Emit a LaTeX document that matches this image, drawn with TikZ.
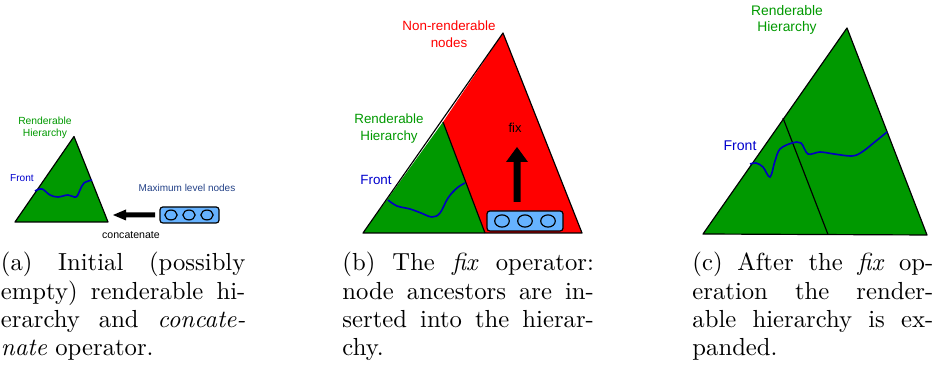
\documentclass[tikz,border=0pt]{standalone}
\usepackage{fontspec}
\usetikzlibrary{shapes.geometric}
\newfontfamily\labfont{Liberation Sans}
\definecolor{treegreen}{RGB}{0,153,0}
\definecolor{treered}{RGB}{255,0,0}
\definecolor{frontblue}{RGB}{0,0,190}
\definecolor{labelblue}{RGB}{0,0,205}
\definecolor{maxblue}{RGB}{35,65,135}
\definecolor{boxblue}{RGB}{102,178,255}
\tikzset{
  tri/.style={draw=black, line width=0.5pt, line join=round},
  frontline/.style={draw=frontblue, line width=0.7pt},
  lab/.style={inner sep=0pt, align=center},
  levelbox/.style={draw=black, fill=boxblue, rounded corners=1.2pt, line width=0.5pt},
  levelnode/.style={draw=black, fill=boxblue, line width=0.5pt, ellipse, inner sep=0pt},
  bigarrow/.style={fill=black},
  captionnode/.style={anchor=base west, inner sep=0pt},
}
% one justified caption line of a given width, and a ragged last line
\newcommand{\capline}[2]{\makebox[#1][s]{#2}\par}
\newcommand{\lastline}[2]{\makebox[#1][l]{#2}\par}
\newcommand{\capfont}{\fontsize{10.5}{12}\selectfont}
\begin{document}
\begin{tikzpicture}[x=0.4255pt, y=-0.4255pt]
\useasboundingbox (0,0) rectangle (937,374);

% ---------- (a) initial hierarchy and concatenate ----------
\fill[treegreen] (74,136.5) -- (15,222) -- (108,222) -- cycle;
\draw[tri] (74,136.5) -- (15,222) -- (108,222) -- cycle;
\draw[frontline] plot[smooth, tension=0.6] coordinates {(35,191) (42,189) (50,195) (58,197) (68,195) (76,197) (80,190) (84,183) (92,180)};
\node[lab, text=treegreen, font=\labfont\fontsize{4.4}{5}\selectfont] (renA) at (45,127.5) {Renderable\\Hierarchy};
\node[lab, text=labelblue, font=\labfont\fontsize{4.3}{5}\selectfont] (frontA) at (22,178.5) {Front};
\node[lab, text=maxblue, font=\labfont\fontsize{4.25}{5}\selectfont] (maxA) at (187,188) {Maximum level nodes};
\node[lab, font=\labfont\fontsize{4.5}{5}\selectfont] (concatA) at (131,235) {concatenate};
\draw[levelbox] (160,207) rectangle (219,223);
\node[levelnode, minimum width=5.2pt, minimum height=4.2pt] (na1) at (171,215) {};
\node[levelnode, minimum width=5.2pt, minimum height=4.2pt] (na2) at (189,215) {};
\node[levelnode, minimum width=5.2pt, minimum height=4.2pt] (na3) at (207,215) {};
\fill[bigarrow] (155,212.5) -- (126,212.5) -- (126,209.5) -- (113,215) -- (126,220.5) -- (126,217.5) -- (155,217.5) -- cycle;

% ---------- (b) the fix operator ----------
\fill[treered] (443,122) -- (503,33) -- (582,233) -- (485,233) -- cycle;
\fill[treegreen] (443,122) -- (363,233) -- (485,233) -- cycle;
\draw[tri] (503,33) -- (363,233) -- (582,233) -- cycle;
\draw[tri] (443,122) -- (485,233);
\draw[frontline] plot[smooth, tension=0.6] coordinates {(388,200) (397,206) (410,209) (421,213) (432,217) (440,213) (448,198) (457,188) (465,183)};
\node[lab, text=treered, font=\labfont\fontsize{5.7}{7.2}\selectfont] (nonB) at (449,34.5) {Non-renderable\\nodes};
\node[lab, text=treegreen, font=\labfont\fontsize{5.7}{7.2}\selectfont] (renB) at (389,128.5) {Renderable\\Hierarchy};
\node[lab, text=labelblue, font=\labfont\fontsize{5.7}{7}\selectfont] (frontB) at (376,180) {Front};
\node[lab, font=\labfont\fontsize{5.5}{7}\selectfont] (fixB) at (515,128) {fix};
\fill[bigarrow] (513.5,202) -- (513.5,162) -- (506,162) -- (517,147) -- (528,162) -- (520.5,162) -- (520.5,202) -- cycle;
\draw[levelbox] (487,211) rectangle (563,231);
\node[levelnode, minimum width=6.2pt, minimum height=5.2pt] (nb1) at (502,221) {};
\node[levelnode, minimum width=6.2pt, minimum height=5.2pt] (nb2) at (525,221) {};
\node[levelnode, minimum width=6.2pt, minimum height=5.2pt] (nb3) at (548,221) {};

% ---------- (c) expanded hierarchy ----------
\fill[treegreen] (847,28) -- (703,234) -- (927,235) -- cycle;
\draw[tri] (847,28) -- (703,234) -- (927,235) -- cycle;
\draw[tri] (783,118) -- (828,234.5);
\draw[frontline] plot[smooth, tension=0.55] coordinates {(750,164) (756,163) (763,167) (770,177) (775,161) (780,149) (792,143) (801,143) (808,154) (820,152) (834,154) (852,156) (862,152) (876,141) (887,132)};
\node[lab, text=treegreen, font=\labfont\fontsize{5.9}{7}\selectfont] (renC) at (787,20) {Renderable\\Hierarchy};
\node[lab, text=labelblue, font=\labfont\fontsize{6}{7}\selectfont] (frontC) at (740,146) {Front};

% ---------- captions ----------
\node[captionnode] (capA) at (0.5,271) {\parbox[t]{104pt}{\capfont\baselineskip=12pt\parindent=0pt
  \capline{104pt}{(a) Initial (possibly}
  \capline{104pt}{empty) renderable hi-}
  \capline{104pt}{erarchy and \textit{concate-}}
  \lastline{104pt}{\textit{nate} operator.}}};
\node[captionnode] (capB) at (342,271) {\parbox[t]{107pt}{\capfont\baselineskip=12pt\parindent=0pt
  \capline{107pt}{(b) The \textit{fix} operator:}
  \capline{107pt}{node ancestors are in-}
  \capline{107pt}{serted into the hierar-}
  \lastline{107pt}{chy.}}};
\node[captionnode] (capC) at (692,271) {\parbox[t]{102.5pt}{\capfont\baselineskip=12pt\parindent=0pt
  \capline{102.5pt}{(c) After the \textit{fix} op-}
  \capline{102.5pt}{eration the render-}
  \capline{102.5pt}{able hierarchy is ex-}
  \lastline{102.5pt}{panded.}}};
\end{tikzpicture}
\end{document}
